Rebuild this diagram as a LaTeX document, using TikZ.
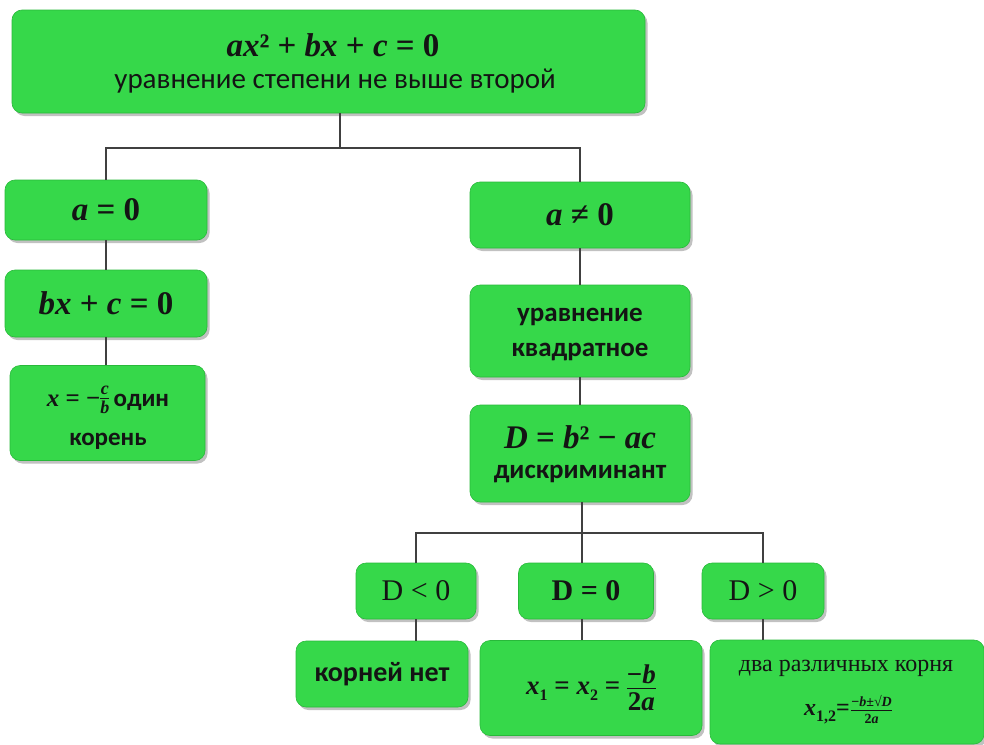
\documentclass[tikz,border=0pt]{standalone}
\usepackage[no-math]{fontspec}
\setmainfont{Carlito}
\newfontfamily\tms{Liberation Serif}
\usetikzlibrary{shadows}
\definecolor{boxgreen}{RGB}{54,216,74}
\definecolor{boxedge}{RGB}{40,185,58}
\tikzset{
  gbox/.style={fill=boxgreen, draw=boxedge, line width=0.6pt, rounded corners=10pt,
    inner sep=0pt, align=center, text=black!92,
    drop shadow={shadow xshift=2.5pt, shadow yshift=-3pt, opacity=0.35, fill=black!70}},
  link/.style={draw=black!75, line width=1.4pt},
  lbl/.style={inner sep=0pt, align=center, text=black!92}
}
\newcommand\fsz[1]{\fontsize{#1}{#1}\selectfont}
\newcommand\mv[1]{{\tms\bfseries\itshape #1}}
\newcommand\mo[1]{{\tms\bfseries #1}}
\newcommand\fr[3]{\ensuremath{\vcenter{\offinterlineskip\halign{\hfil##\hfil\cr\hbox{#2}\cr\noalign{\kern#1\hrule height 0.8pt\kern#1}\hbox{#3}\cr}}}}
\newcommand\sub[2]{\raisebox{-0.25em}{\fsz{#1}#2}}
\begin{document}
\begin{tikzpicture}[x=1pt,y=-1pt]
\useasboundingbox (0,0) rectangle (984,744);
% boxes
\node[gbox, minimum width=633pt, minimum height=103pt] (top) at (328.5,61.5) {};
\node[lbl, font=\fsz{33}] (topf) at (333,45) {\mv{ax}\mo{² + }\mv{bx}\mo{ + }\mv{c}\mo{ = 0}};
\node[lbl, font=\fsz{29}] (tops) at (335,81) {уравнение степени не выше второй};

\node[gbox, minimum width=202pt, minimum height=60pt, font=\fsz{33}] (a0) at (106,210) {\mv{a}\mo{ = 0}};
\node[gbox, minimum width=202pt, minimum height=67pt, font=\fsz{33}] (bx) at (106,303.5) {\mv{bx}\mo{ + }\mv{c}\mo{ = 0}};
\node[gbox, minimum width=195pt, minimum height=95pt] (xcb) at (107.5,413) {};
\node[lbl, font=\fsz{25}\bfseries] (xcb1) at (108,400) {\mv{x}\mo{ = −}\fr{3pt}{\fsz{18}\mv{c}}{\fsz{18}\mv{b}}\,один};
\node[lbl, font=\fsz{25}\bfseries] (xcb2) at (108,441) {корень};

\node[gbox, minimum width=220pt, minimum height=66pt, font=\fsz{33}] (an0) at (580,215) {\mv{a}\mo{ ≠ 0}};
\node[gbox, minimum width=220pt, minimum height=92pt] (kv) at (580,331) {};
\node[lbl, font=\fsz{27}\bfseries] (kv1) at (580,317) {уравнение};
\node[lbl, font=\fsz{27}\bfseries] (kv2) at (580,352) {квадратное};
\node[gbox, minimum width=220pt, minimum height=97pt] (D) at (580,453.5) {};
\node[lbl, font=\fsz{33}] (D1) at (580,437) {\mv{D}\mo{ = }\mv{b}\mo{² − }\mv{ac}};
\node[lbl, font=\fsz{27}\bfseries] (D2) at (580,474) {дискриминант};

\node[gbox, minimum width=120pt, minimum height=56pt, font=\fsz{30}\tms] (Dl) at (416,591) {D < 0};
\node[gbox, minimum width=135pt, minimum height=56pt, font=\fsz{30}\tms\bfseries] (De) at (586,591) {D = 0};
\node[gbox, minimum width=122pt, minimum height=56pt, font=\fsz{30}\tms] (Dg) at (763,591) {D > 0};

\node[gbox, minimum width=172pt, minimum height=66pt, font=\fsz{28}\bfseries] (kn) at (382,674) {корней нет};
\node[gbox, minimum width=222pt, minimum height=95pt] (x12) at (591,688) {};
\node[lbl, font=\fsz{27}] (x12t) at (591,688) {\mv{x}\sub{16}{\mo{1}}\mo{ = }\mv{x}\sub{16}{\mo{2}}\mo{ = }\fr{4pt}{\mo{−}\mv{b}}{\mo{2}\mv{a}}};
\node[gbox, minimum width=274pt, minimum height=104pt] (dva) at (847,692) {};
\node[lbl, font=\fsz{24}\tms] (dva1) at (846,668) {два различных корня};
\node[lbl, font=\fsz{24}] (dva2) at (848,710) {\mv{x}\sub{16}{\mo{1,2}}\mo{=}\kern1.5pt\fr{3pt}{\fsz{14}\mo{−}\mv{b}\mo{±√}\mv{D}}{\fsz{14}\mo{2}\mv{a}}};

% connectors
\coordinate (j1) at (340,148);
\coordinate (j2) at (582,533);
\draw[link] (j1 |- top.south) -- (j1);
\draw[link] (a0.north) |- (j1) -| (an0.north);
\draw[link] (a0.south) -- (bx.north);
\draw[link] (bx.south) -- (bx.south |- xcb.north);
\draw[link] (an0.south) -- (kv.north);
\draw[link] (kv.south) -- (D.north);
\draw[link] (j2 |- D.south) -- (j2);
\draw[link] (Dl.north) |- (j2) -| (Dg.north);
\draw[link] (j2) -- (j2 |- De.north);
\draw[link] (Dl.south) -- (Dl.south |- kn.north);
\draw[link] (j2 |- De.south) -- (j2 |- x12.north);
\draw[link] (Dg.south) -- (Dg.south |- dva.north);
\end{tikzpicture}
\end{document}
